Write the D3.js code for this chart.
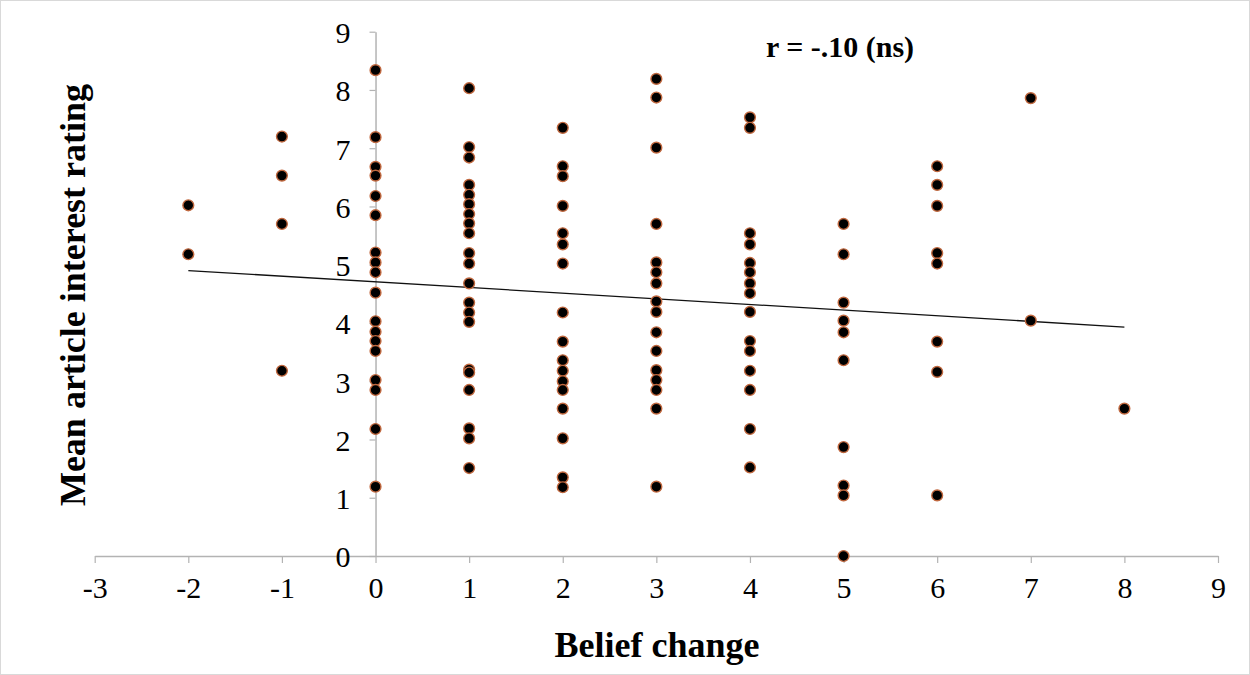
<!DOCTYPE html>
<html>
<head>
<meta charset="utf-8">
<script src="https://cdn.jsdelivr.net/npm/d3@7"></script>
<style>
  body { margin: 0; background: #fff; }
  svg text { font-family: "Liberation Serif", "DejaVu Serif", serif; fill: #000; }
</style>
</head>
<body>
<div class="container"></div>
<script>
// belief change levels and the mean interest ratings seen at each level
const beliefChange = [-2, -1, 0, 1, 2, 3, 4, 5, 6, 7, 8]
const interestRatings = [
  [6.02, 5.18],
  [7.20, 6.53, 5.70, 3.18],
  [8.34, 7.19, 6.68, 6.53, 6.18, 5.85, 5.21, 5.04, 4.87, 4.52, 4.03, 3.85, 3.69, 3.52, 3.02, 2.85, 2.18, 1.19],
  [8.03, 7.02, 6.84, 6.37, 6.20, 6.04, 5.87, 5.71, 5.54, 5.20, 5.02, 4.68, 4.35, 4.18, 4.02, 3.20, 3.15, 2.85, 2.19, 2.02, 1.51],
  [7.35, 6.69, 6.52, 6.01, 5.54, 5.35, 5.02, 4.18, 3.68, 3.36, 3.18, 3.00, 2.85, 2.53, 2.02, 1.35, 1.18],
  [8.19, 7.87, 7.01, 5.70, 5.04, 4.87, 4.68, 4.37, 4.19, 3.84, 3.52, 3.19, 3.02, 2.85, 2.53, 1.19],
  [7.53, 7.35, 5.54, 5.35, 5.03, 4.87, 4.68, 4.51, 4.19, 3.69, 3.52, 3.18, 2.85, 2.18, 1.52],
  [5.70, 5.18, 4.35, 4.04, 3.84, 3.36, 1.87, 1.21, 1.04, 0.0],
  [6.69, 6.37, 6.01, 5.20, 5.02, 3.68, 3.16, 1.04],
  [7.86, 4.04],
  [2.53]
]
const xTicks = [-3, -2, -1, 0, 1, 2, 3, 4, 5, 6, 7, 8, 9]
const yTicks = [0, 1, 2, 3, 4, 5, 6, 7, 8, 9]
// fitted trend line (intercept at 0, slope), drawn from -2 to 8
const trendIntercept = 4.706
const trendSlope = -0.097
const trendRange = [-2, 8]

const WIDTH = 1250
const HEIGHT = 675
const TICK_FONT = 30
const TITLE_FONT = 36

const points = []
beliefChange.forEach((b, i) => interestRatings[i].forEach(r => points.push({ x: b, y: r })))

const svg = d3.select('.container')
  .append('svg')
  .attr('width', WIDTH)
  .attr('height', HEIGHT)

// outer frame
svg.append('rect')
  .attr('x', 0.5).attr('y', 0.5)
  .attr('width', WIDTH - 1).attr('height', HEIGHT - 1)
  .attr('fill', '#fff')
  .attr('stroke', '#d9d9d9')

const x = d3.scaleLinear().domain([-3, 9]).range([94.7, 1218])
const y = d3.scaleLinear().domain([0, 9]).range([556, 31.7])

const AXIS_GRAY = '#b3b3b3'
const plainNumber = d => String(d)   // keep ascii hyphen like the source

const xAxis = svg.append('g')
  .attr('transform', `translate(0, ${y(0)})`)
  .call(d3.axisBottom(x).tickValues(xTicks).tickFormat(plainNumber)
    .tickSize(7).tickPadding(14).tickSizeOuter(0))
xAxis.select('.domain').attr('stroke', AXIS_GRAY).attr('stroke-width', 1.5)
xAxis.selectAll('.tick line').attr('stroke', AXIS_GRAY).attr('stroke-width', 1.2)
xAxis.selectAll('text')
  .attr('font-family', '"Liberation Serif", serif')
  .attr('font-size', TICK_FONT)

const yAxis = svg.append('g')
  .attr('transform', `translate(${x(0)}, 0)`)
  .call(d3.axisLeft(y).tickValues(yTicks).tickFormat(plainNumber)
    .tickSize(6).tickPadding(19).tickSizeOuter(0))
yAxis.select('.domain').attr('stroke', AXIS_GRAY).attr('stroke-width', 1.5)
yAxis.selectAll('.tick line').attr('stroke', AXIS_GRAY).attr('stroke-width', 1.2)
yAxis.selectAll('text')
  .attr('font-family', '"Liberation Serif", serif')
  .attr('font-size', TICK_FONT)
  .attr('dy', '0.36em')

// trend line
svg.append('line')
  .attr('x1', x(trendRange[0]))
  .attr('y1', y(trendIntercept + trendSlope * trendRange[0]))
  .attr('x2', x(trendRange[1]))
  .attr('y2', y(trendIntercept + trendSlope * trendRange[1]))
  .attr('stroke', '#111')
  .attr('stroke-width', 1.3)

// points
svg.append('g')
  .selectAll('circle')
  .data(points)
  .enter()
    .append('circle')
    .attr('cx', d => x(d.x))
    .attr('cy', d => y(d.y))
    .attr('r', 5.4)
    .attr('fill', '#000')
    .attr('stroke', '#c0683f')
    .attr('stroke-width', 1.4)

// annotation
svg.append('text')
  .text('r = -.10 (ns)')
  .attr('x', 840)
  .attr('y', 57)
  .attr('text-anchor', 'middle')
  .attr('font-weight', 'bold')
  .attr('font-size', 30)

// axis titles
svg.append('text')
  .text('Belief change')
  .attr('x', 657)
  .attr('y', 657)
  .attr('text-anchor', 'middle')
  .attr('font-weight', 'bold')
  .attr('font-size', TITLE_FONT)

svg.append('text')
  .text('Mean article interest rating')
  .attr('transform', `translate(85, 295) rotate(-90)`)
  .attr('text-anchor', 'middle')
  .attr('font-weight', 'bold')
  .attr('font-size', TITLE_FONT)
</script>
</body>
</html>
